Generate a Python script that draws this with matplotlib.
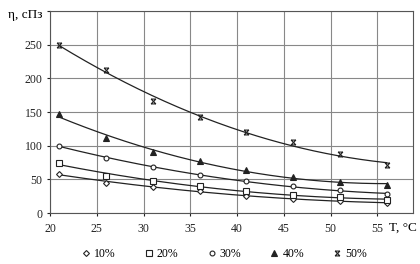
import matplotlib
matplotlib.use('Agg')
import matplotlib.pyplot as plt
import numpy as np
from matplotlib.path import Path

# температура, °C
T = [21, 26, 31, 36, 41, 46, 51, 56]

# вязкость, сПз
eta_10 = [58, 45, 39, 33, 25, 21, 18, 15]
eta_20 = [75, 55, 47, 40, 33, 27, 24, 19]
eta_30 = [100, 82, 68, 56, 47, 40, 34, 28]
eta_40 = [147, 111, 90, 78, 64, 53, 46, 42]
eta_50 = [250, 212, 167, 142, 120, 105, 87, 71]

labels = ['10%', '20%', '30%', '40%', '50%']
series = [eta_10, eta_20, eta_30, eta_40, eta_50]

# маркер "x" с перекладинами сверху и снизу
star = Path([(-1, -1), (1, 1), (-1, 1), (1, -1), (-1, 1), (1, 1), (-1, -1), (1, -1)],
            [Path.MOVETO, Path.LINETO, Path.MOVETO, Path.LINETO,
             Path.MOVETO, Path.LINETO, Path.MOVETO, Path.LINETO])
markers = [dict(marker='D', ms=3, mfc='white'),
           dict(marker='s', ms=4, mfc='white'),
           dict(marker='o', ms=3.5, mfc='white'),
           dict(marker='^', ms=4, mfc='#222222'),
           dict(marker=star, ms=3.5, mfc='none')]

plt.rcParams['font.family'] = ['Liberation Serif', 'DejaVu Serif']

fig = plt.figure(figsize=(4.2, 2.64), dpi=100)
ax = fig.add_axes([0.119, 0.193, 0.864, 0.765])

x = np.array(T, dtype=float)
xs = np.linspace(x[0], x[-1], 200)
for y, lab, m in zip(series, labels, markers):
    # полиномиальная линия тренда (2-я степень)
    c = np.polyfit(x, y, 2)
    ax.plot(xs, np.polyval(c, xs), color='#222222', lw=0.9)
    ax.plot(x, y, linestyle='none', color='#222222', mew=0.8, label=lab, **m)

ax.set_xlim(20, 58.8)
ax.set_ylim(0, 300)
ax.set_xticks([20, 25, 30, 35, 40, 45, 50, 55])
ax.set_yticks([0, 50, 100, 150, 200, 250, 300])
ax.set_yticklabels(['0', '50', '100', '150', '200', '250', ''])
ax.grid(True, color='#888888', lw=0.8)
ax.set_axisbelow(True)
ax.tick_params(labelsize=8.5, length=2, width=0.8, colors='#222222')
ax.tick_params(axis='x', pad=5)
for s in ax.spines.values():
    s.set_color('#555555')
    s.set_linewidth(0.8)

fig.text(0.02, 0.945, 'η, сПз', fontsize=9.5, va='center', ha='left')
fig.text(0.926, 0.137, 'T, °C', fontsize=9.5, va='center', ha='left')

ax.legend(loc='center', bbox_to_anchor=(0.48, -0.205), ncol=5, frameon=False,
          fontsize=8.5, handlelength=0.8, handletextpad=0.3, columnspacing=2.4)

fig.savefig('out.png', dpi=100)
